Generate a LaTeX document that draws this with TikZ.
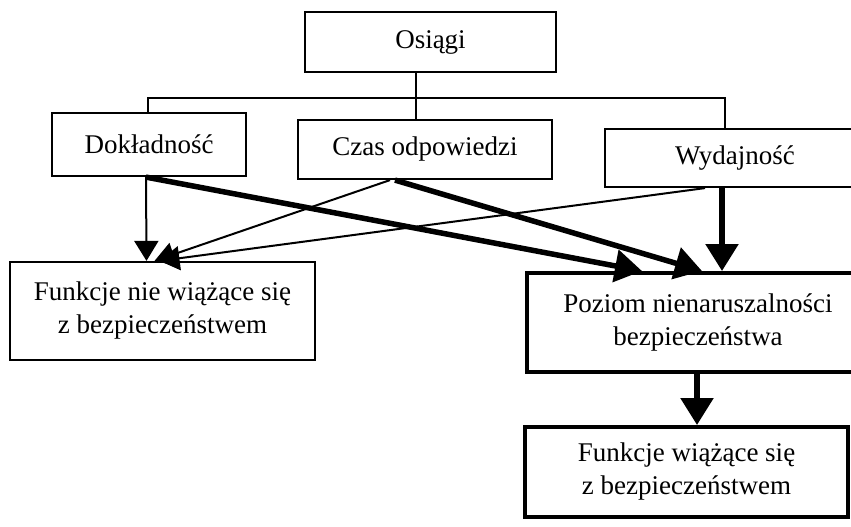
\documentclass[tikz,border=0pt]{standalone}
\usepackage{fontspec}
\setmainfont{Liberation Serif}
\usetikzlibrary{arrows.meta}
\begin{document}
\begin{tikzpicture}[x=1pt,y=-1pt,
  box/.style={draw, line width=2.2pt, inner sep=0pt, align=center,
    font=\fontsize{27}{33}\selectfont},
  thickbox/.style={box, line width=4pt},
  tree/.style={line width=2.2pt},
  thinarrow/.style={line width=2pt, -{Triangle[length=20pt,width=24pt]}},
  thickarrow/.style={line width=5.5pt, -{Triangle[length=27pt,width=32pt]}}]
\useasboundingbox (0,0) rectangle (851,527);
\clip (0,0) rectangle (851,527);
% boxes
\node[box, minimum width=251pt, minimum height=60pt] (osiagi) at (430.5,42) {Osiągi};
\node[box, minimum width=194pt, minimum height=63pt] (dok) at (149,144.5) {Dokładność};
\node[box, minimum width=254pt, minimum height=59pt] (czas) at (425,149.5) {Czas odpowiedzi};
\node[box, minimum width=260pt, minimum height=58pt] (wyd) at (735,158) {Wydajność};
\node[box, minimum width=305pt, minimum height=98pt] (fnie) at (162.5,311) {Funkcje nie wiążące się\\z bezpieczeństwem};
\node[thickbox, minimum width=342pt, minimum height=99pt] (poziom) at (698,322.5) {Poziom nienaruszalności\\bezpieczeństwa};
\node[thickbox, minimum width=323pt, minimum height=90pt] (fwiaz) at (686.5,472) {Funkcje wiążące się\\z bezpieczeństwem};
% tree
\coordinate (hl) at (148,98);
\coordinate (hr) at (725,98);
\draw[tree] (osiagi.south -| 416,0) -- (czas.north -| 416,0);
\draw[tree] (dok.north -| hl) -- (hl) -- (hr) -- (wyd.north -| hr);
% thin arrows
\draw[thinarrow] ([xshift=-3pt]dok.south) -- ([xshift=-16pt]fnie.north);
\draw[thinarrow] ([xshift=-35pt]czas.south) -- ([xshift=-8pt]fnie.north);
\draw[thinarrow] ([xshift=-30pt]wyd.south) -- ([xshift=-3pt]fnie.north);
% thick arrows
\draw[thickarrow] ([xshift=-3pt]dok.south) -- ([xshift=-56pt]poziom.north);
\draw[thickarrow] ([xshift=-30pt]czas.south) -- ([xshift=4pt]poziom.north);
\draw[thickarrow] ([xshift=-13pt]wyd.south) -- ([xshift=24pt]poziom.north);
\draw[thickarrow] (poziom.south -| 697,0) -- (fwiaz.north -| 697,0);
\end{tikzpicture}
\end{document}
